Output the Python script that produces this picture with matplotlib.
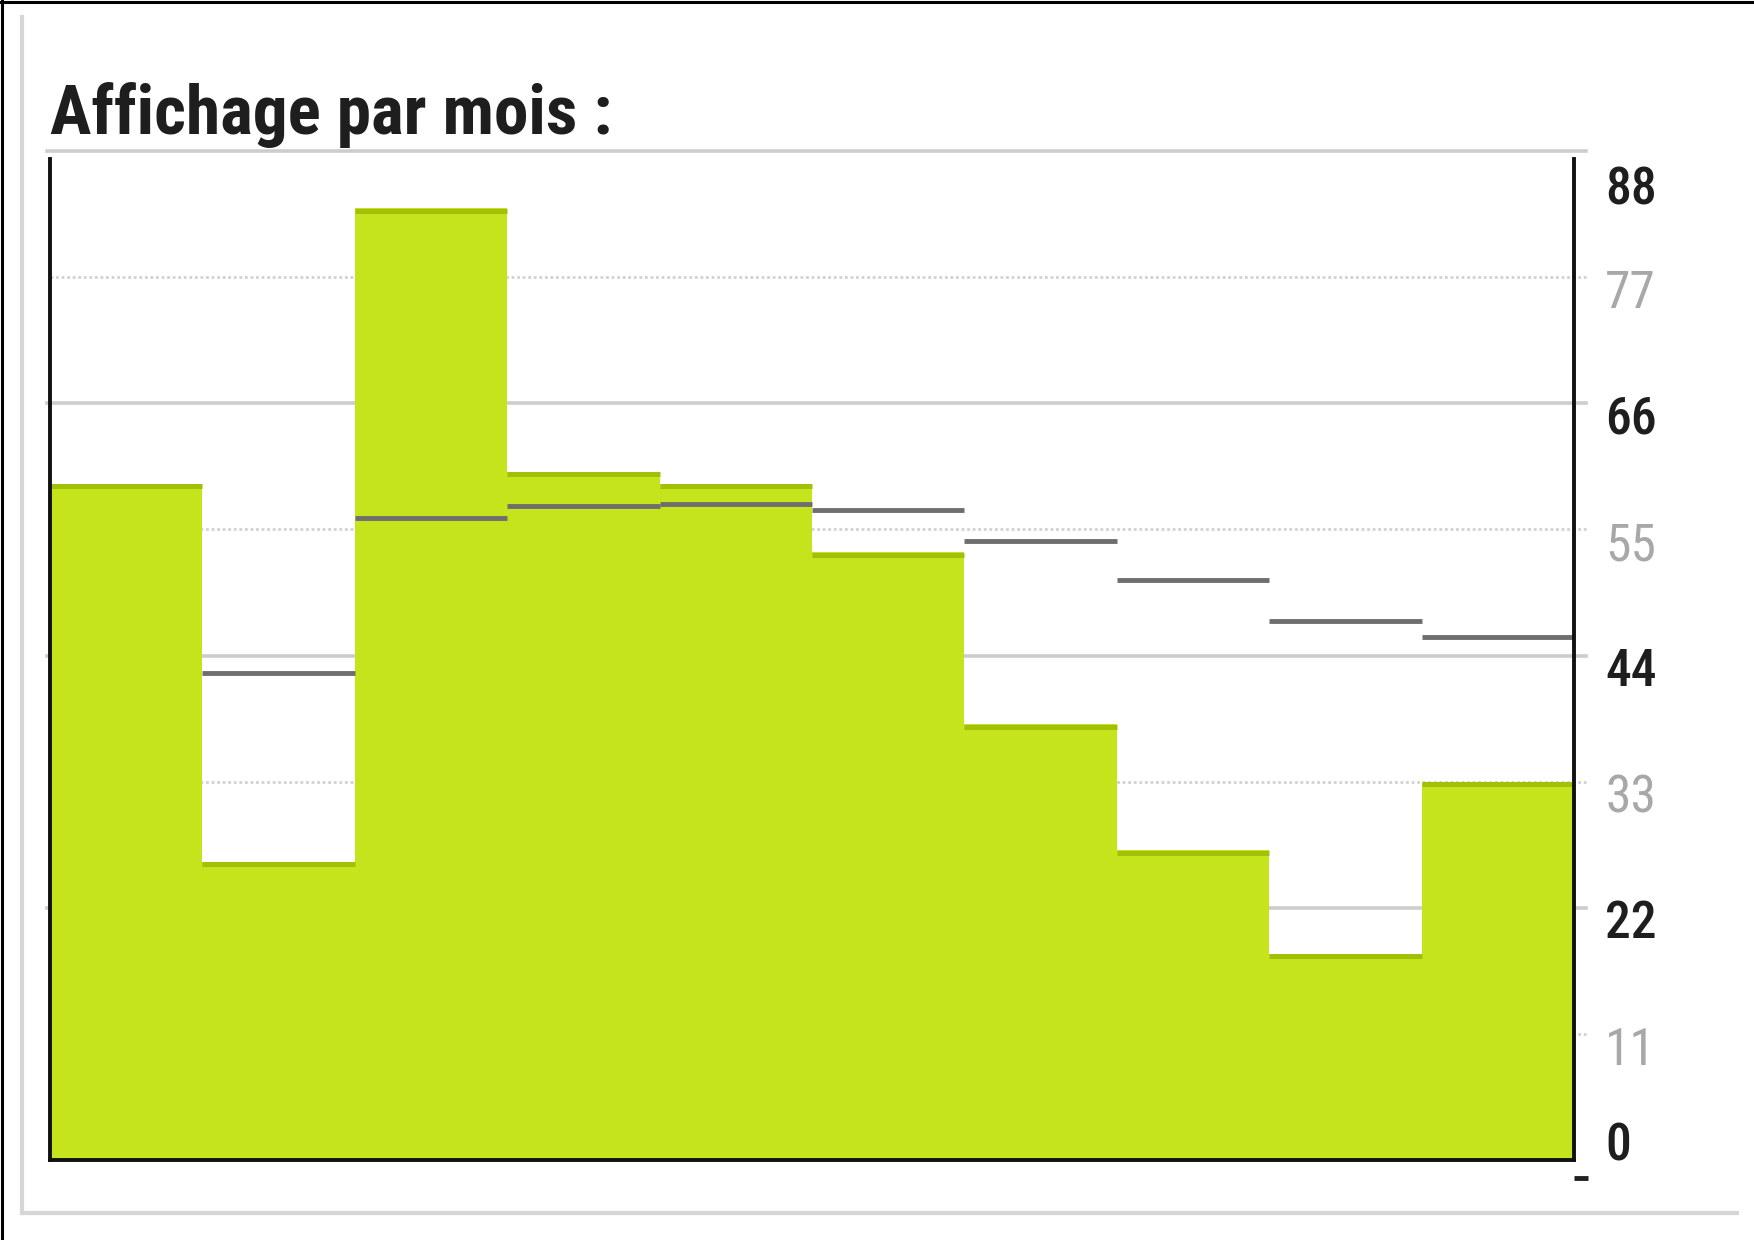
import numpy as np
import matplotlib.pyplot as plt
from matplotlib import font_manager as fm
from matplotlib.transforms import offset_copy, blended_transform_factory
from matplotlib.lines import Line2D

# Dane (10 miesięcy)
wartosci = [59, 26, 83, 60, 59, 53, 38, 27, 18, 33]
srednie = [np.nan, 42.5, 56, 57, 57.2, 56.7, 54, 50.6, 47, 45.6]
podzialka = [0, 11, 22, 33, 44, 55, 66, 77, 88]
etykiety = ['0', '11', '22', '33', '44', '55', '66', '77', '88']
glowne = [0, 22, 44, 66, 88]

# Wybór wąskiej czcionki, jeśli jest zainstalowana
dostepne = {f.name for f in fm.fontManager.ttflist}
rodzina = 'Liberation Sans'
for kandydat in ['Liberation Sans Narrow', 'Roboto Condensed', 'DejaVu Sans Condensed', 'Liberation Sans']:
    if kandydat in dostepne:
        rodzina = kandydat
        break
plt.rcParams['font.family'] = [rodzina, 'DejaVu Sans']

W, H = 1754, 1240
fig = plt.figure(figsize=(W / 100, H / 100), dpi=100)
fig.patch.set_facecolor('white')
renderer = fig.canvas.get_renderer()


def dopasuj(tekst, szer_px, maks, **kw):
    # rozmiar czcionki tak, by tekst miał zadaną szerokość w pikselach
    t = fig.text(0, 0, tekst, fontsize=20, **kw)
    w = t.get_window_extent(renderer).width
    t.remove()
    return min(maks, 20 * szer_px / w)


rozm_tyt = dopasuj('Affichage par mois :', 560, 50, fontweight='bold')
rozm_etyk = dopasuj('88', 51, 42)

# Ramka strony
fig.add_artist(Line2D([0, 1], [1 - 1.5 / H, 1 - 1.5 / H], color='black', lw=2.2))
fig.add_artist(Line2D([1.5 / W, 1.5 / W], [0, 1], color='black', lw=2.2))
fig.add_artist(Line2D([22 / W, 22 / W], [1 - 1213 / H, 1 - 17 / H], color='#d6d6d6', lw=3))
fig.add_artist(Line2D([22 / W, 1737 / W], [1 - 1213 / H, 1 - 1213 / H], color='#d6d6d6', lw=3))

# Obszar wykresu
lewy, prawy = 50 / W, 1574 / W
dol, gora = 1 - 1160 / H, 1 - 151 / H
ax = fig.add_axes([lewy, dol, prawy - lewy, gora - dol])
ax.set_xlim(0, len(wartosci))
ax.set_ylim(0, 88)
ax.set_facecolor('none')

# Siatka
wydl = (1586 - 50) / (1574 - 50)
for v in podzialka:
    if v == 0:
        continue
    if v in glowne:
        ax.axhline(v, xmin=-0.002, xmax=wydl, color='#cdcdcd', lw=2.6, zorder=1, clip_on=False)
    else:
        ax.axhline(v, xmin=0, xmax=wydl, color='#d2d2d2', lw=2.0, ls=(0, (1, 1)), zorder=1, clip_on=False)

x = np.arange(len(wartosci))
ax.bar(x, wartosci, width=1.0, align='edge', color='#c6e41c', edgecolor='none', zorder=2)
ax.hlines(np.array(wartosci) - 0.2, x, x + 1, color='#a3c008', lw=3.6, zorder=3)
ax.hlines(srednie, x, x + 1, color='#6e6e6e', lw=3.5, zorder=4)

# Osie
ax.spines['top'].set_visible(False)
for s in ['left', 'right', 'bottom']:
    ax.spines[s].set_color('#111111')
    ax.spines[s].set_linewidth(2.8)
    ax.spines[s].set_zorder(6)
ax.spines['left'].set_bounds(0, 87.3)
ax.spines['right'].set_bounds(0, 87.3)
ax.set_xticks([])
ax.set_yticks([])

# Etykiety osi Y po prawej
tr = blended_transform_factory(ax.transAxes, ax.transData)
for v, t in zip(podzialka, etykiety):
    if v == 88:
        dy = -28.5
    elif v == 0:
        dy = 9.5
    else:
        dy = -12.0
    kolor = '#1e1e1e' if v in glowne else '#a8a8a8'
    waga = 'medium' if v in glowne else 'normal'
    ax.text((1605 - 50) / (1574 - 50), v, t, ha='left', va='center', fontsize=rozm_etyk,
            color=kolor, fontweight=waga,
            transform=offset_copy(tr, fig=fig, x=0, y=dy, units='points'))

# Mała kreska pod prawym rogiem
ax.plot([1.0, 1.009], [-0.018, -0.018], transform=ax.transAxes, color='#222222',
        lw=3.5, clip_on=False, solid_capstyle='butt')

fig.text(50 / W, 1 - 134 / H, 'Affichage par mois :', fontsize=rozm_tyt, fontweight='bold',
         color='#1e1e1e', ha='left', va='baseline')

fig.savefig('out.png', dpi=100)
